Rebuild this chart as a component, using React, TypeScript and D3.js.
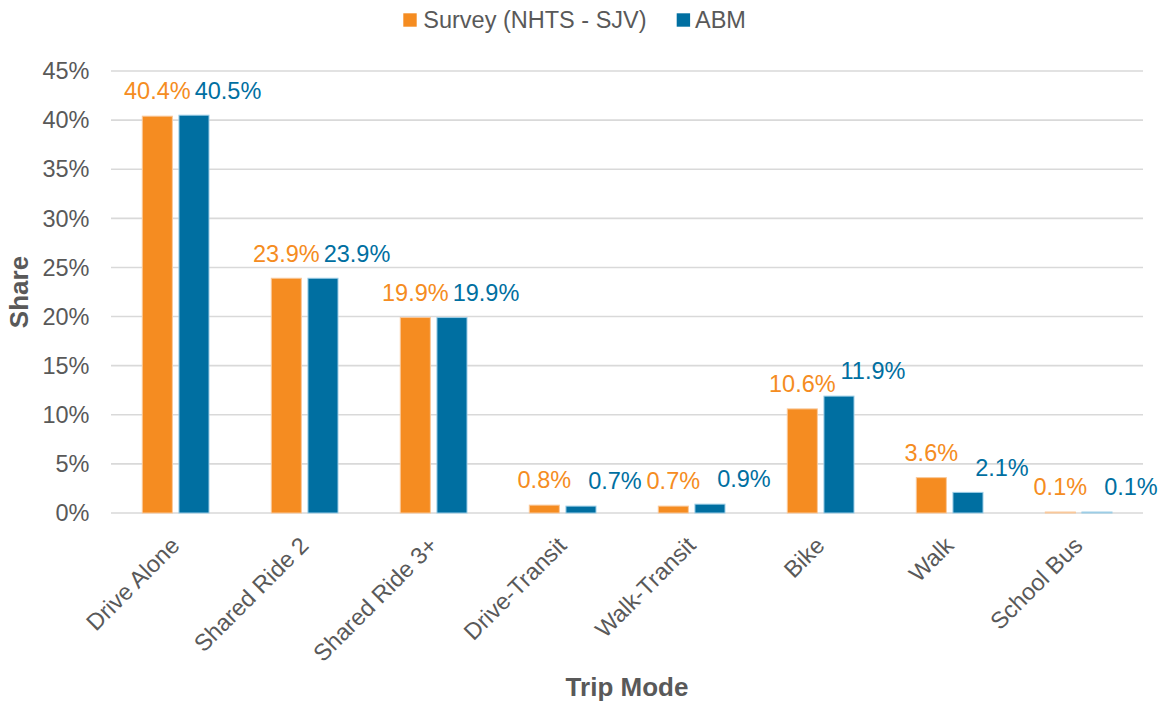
import React from "react";
import * as d3 from "d3";

const categories = ["Drive Alone", "Shared Ride 2", "Shared Ride 3+", "Drive-Transit", "Walk-Transit", "Bike", "Walk", "School Bus"];
const seriesNames = ["Survey (NHTS - SJV)", "ABM"];
const surveyValues = [40.4, 23.9, 19.9, 0.8, 0.7, 10.6, 3.6, 0.1];
const abmValues = [40.5, 23.9, 19.9, 0.7, 0.9, 11.9, 2.1, 0.1];
const yTicks = [0, 5, 10, 15, 20, 25, 30, 35, 40, 45];

const COLORS = ["#F58C21", "#006FA1"];
const EDGE = ["#F9C89A", "#9CCDE6"];
const LABEL_DX = [0, 34];
const TEXT = "#595959";
const FONT = "'Liberation Sans', Arial, sans-serif";

export default function App() {
  const W = 1163, H = 704;
  const left = 111, right = 1143, top = 71, bottom = 513;
  const x0 = d3.scaleBand<string>().domain(categories).range([left, right]).padding(0);
  const x1 = d3.scaleBand<string>().domain(seriesNames).range([31.3, 98]).paddingInner(0.18).paddingOuter(0);
  const y = d3.scaleLinear().domain([0, 45]).range([bottom, top]);
  const series = [surveyValues, abmValues];
  const fmt = (v: number) => v.toFixed(1) + "%";

  return (
    <svg width={W} height={H} style={{ position: "absolute", left: 0, top: 0, background: "#fff" }} fontFamily={FONT}>
      {yTicks.map((t) => (
        <g key={t}>
          <line x1={left} x2={right} y1={y(t)} y2={y(t)} stroke="#D9D9D9" strokeWidth={1.6} />
          <text x={89.5} y={y(t)} dy="0.35em" textAnchor="end" fontSize={23.5} fill={TEXT}>{t}%</text>
        </g>
      ))}
      {categories.map((c, i) => (
        <g key={c} transform={`translate(${x0(c)},0)`}>
          {seriesNames.map((s, j) => {
            const v = series[j][i];
            const bx = x1(s)!;
            const bw = x1.bandwidth();
            return (
              <g key={s}>
                <rect x={bx} y={y(v)} width={bw} height={Math.max(bottom - y(v), 0.8)} fill={COLORS[j]} stroke={EDGE[j]} strokeWidth={1} />
                <text x={bx + bw / 2 + LABEL_DX[j]} y={y(v) - 16.7} textAnchor="middle" fontSize={23.5} fill={COLORS[j]}>{fmt(v)}</text>
              </g>
            );
          })}
        </g>
      ))}
      {categories.map((c) => {
        const cx = x0(c)! + x0.bandwidth() / 2;
        return (
          <text key={c} transform={`translate(${cx + 5.5},547) rotate(-45)`} textAnchor="end" fontSize={23.5} fill={TEXT}>{c}</text>
        );
      })}
      <text transform={`translate(28,${(top + bottom) / 2}) rotate(-90)`} textAnchor="middle" fontSize={26} fontWeight="bold" fill={TEXT}>Share</text>
      <text x={(left + right) / 2} y={696} textAnchor="middle" fontSize={26} fontWeight="bold" fill={TEXT}>Trip Mode</text>
      <g>
        <rect x={403.3} y={13.3} width={13.4} height={13.4} fill={COLORS[0]} />
        <text x={423.3} y={28} fontSize={23.5} fill={TEXT}>{seriesNames[0]}</text>
        <rect x={676.7} y={13.3} width={13.4} height={13.4} fill={COLORS[1]} />
        <text x={695} y={28} fontSize={23.5} fill={TEXT}>{seriesNames[1]}</text>
      </g>
    </svg>
  );
}
